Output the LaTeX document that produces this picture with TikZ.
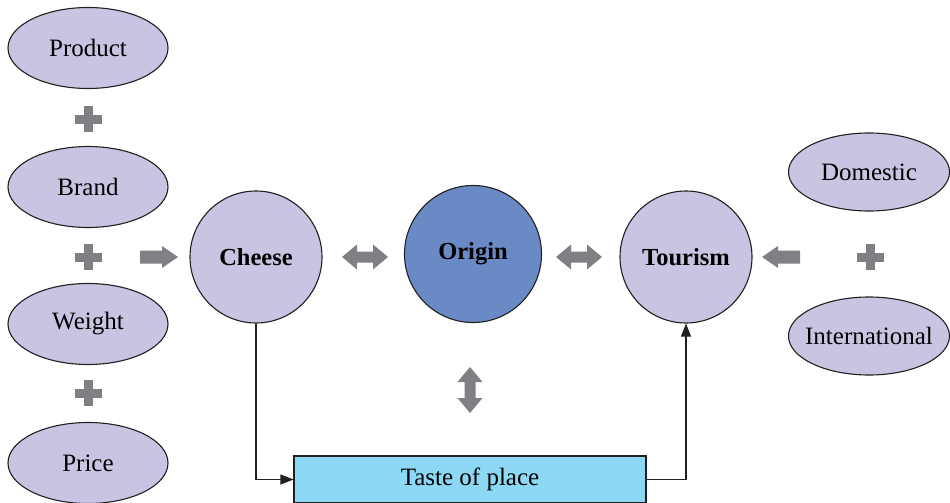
\documentclass[tikz,border=0pt]{standalone}
\usepackage{fontspec}
\setmainfont{Liberation Serif}
\usetikzlibrary{arrows.meta,shapes.geometric}
\definecolor{lav}{HTML}{C8C5E2}
\definecolor{orig}{HTML}{6A8AC6}
\definecolor{arrgray}{HTML}{7F8083}
\definecolor{taste}{HTML}{8DD8F5}
\definecolor{edge}{HTML}{231F20}
\tikzset{
  oval/.style={ellipse, draw=edge, line width=1.1pt, fill=lav, minimum width=160pt, minimum height=81pt, inner xsep=-25pt, inner ysep=0pt, font=\fontsize{25}{29}\selectfont},
  bigcirc/.style={circle, draw=edge, line width=1.1pt, fill=lav, minimum size=132pt, inner sep=0pt, font=\fontsize{24.5}{29}\selectfont\bfseries},
  conn/.style={draw=edge, line width=1.1pt, -{Triangle[length=13pt,width=10pt]}},
  plusmark/.pic={\fill[arrgray] (-13.5,-4.5) rectangle (13.5,4.5); \fill[arrgray] (-4.5,-13) rectangle (4.5,13);},
  rarr/.pic={\fill[arrgray] (-19,-6.5) -- (3,-6.5) -- (3,-11) -- (19,0) -- (3,11) -- (3,6.5) -- (-19,6.5) -- cycle;},
  harr/.pic={\fill[arrgray] (-23,0) -- (-8,-12.5) -- (-8,-5.5) -- (8,-5.5) -- (8,-12.5) -- (23,0) -- (8,12.5) -- (8,5.5) -- (-8,5.5) -- (-8,12.5) -- cycle;},
}
\begin{document}
\begin{tikzpicture}[x=1pt,y=-1pt]
\useasboundingbox (0,0) rectangle (950,503);
% left ovals
\node[oval] (product) at (88,48) {Product};
\node[oval] (brand) at (88,187) {Brand};
\node[oval] (weight) at (88,324) {Weight};
\node[oval] (price) at (88,463) {Price};
\pic at (88,119) {plusmark};
\pic at (88,257) {plusmark};
\pic at (88,393) {plusmark};
\pic at (159,257) {rarr};
% circles
\node[bigcirc] (cheese) at (256,257) {Cheese};
\node[bigcirc, fill=orig, minimum size=137pt] (origin) at (473,254) {Origin};
\node[bigcirc] (tourism) at (686,257) {Tourism};
\pic at (365,257) {harr};
\pic at (579,257) {harr};
\pic[rotate=90] at (470,390) {harr};
\pic[rotate=180] at (781,257) {rarr};
% right ovals
\node[oval, minimum width=161pt, minimum height=78pt] (domestic) at (869,172) {Domestic};
\node[oval, minimum width=161pt, minimum height=78pt] (intl) at (869,336) {International};
\pic at (870,257) {plusmark};
% taste of place
\node[draw=edge, line width=1.1pt, fill=taste, minimum width=352pt, minimum height=47pt, inner sep=0pt, font=\fontsize{25}{29}\selectfont] (taste) at (470,479.5) {Taste of place};
\draw[conn] (cheese.south) |- (taste.west);
\draw[conn] (taste.east) -| (tourism.south);
\end{tikzpicture}
\end{document}
